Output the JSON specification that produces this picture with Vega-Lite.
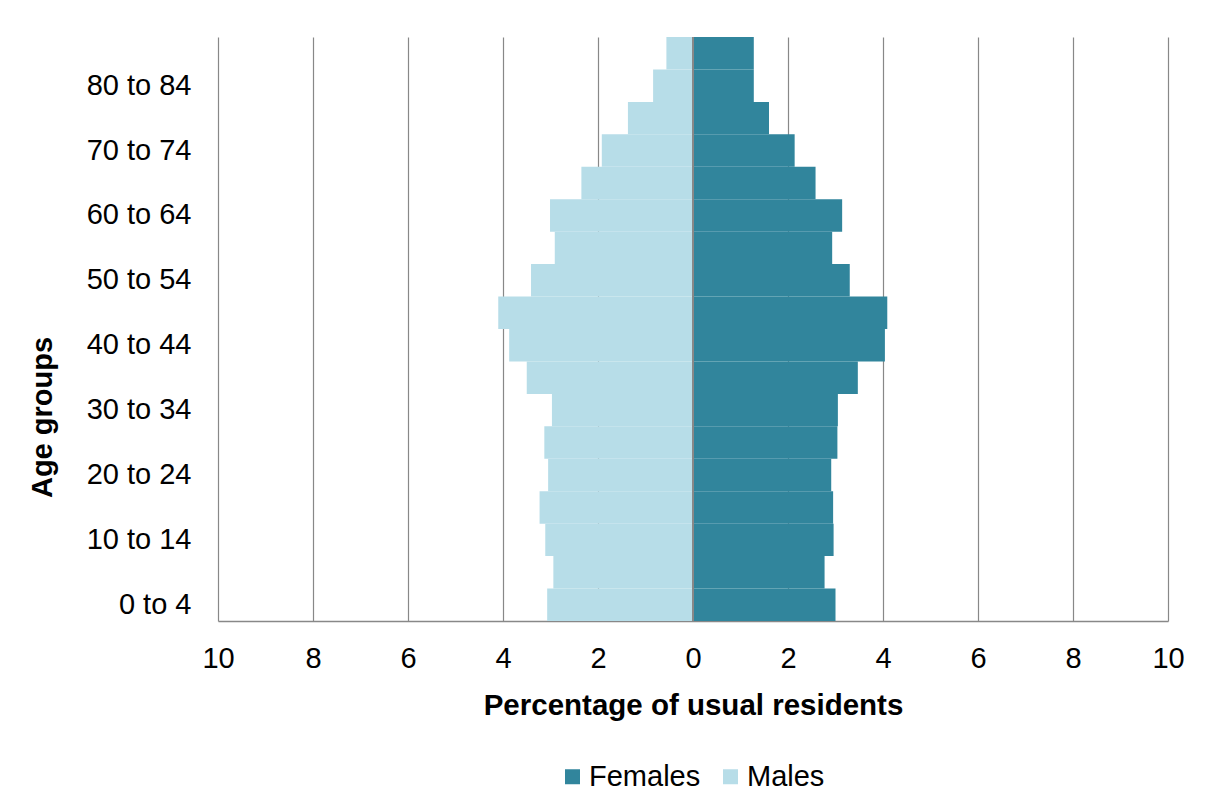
{
  "$schema": "https://vega.github.io/schema/vega-lite/v6.json",
  "width": 950,
  "height": 584,
  "autosize": {"type": "none"},
  "padding": {"left": 218, "top": 37, "right": 40, "bottom": 186},
  "background": "white",
  "config": {
    "font": "Liberation Sans",
    "view": {"stroke": null},
    "axis": {"labelColor": "black", "titleColor": "black", "labelFont": "Liberation Sans", "titleFont": "Liberation Sans"},
    "legend": {"labelFont": "Liberation Sans"}
  },
  "data": {
    "values": [
      {"age": "0 to 4", "sex": "Females", "value": 3.00},
      {"age": "0 to 4", "sex": "Males", "value": -3.07},
      {"age": "5 to 9", "sex": "Females", "value": 2.77},
      {"age": "5 to 9", "sex": "Males", "value": -2.94},
      {"age": "10 to 14", "sex": "Females", "value": 2.96},
      {"age": "10 to 14", "sex": "Males", "value": -3.11},
      {"age": "15 to 19", "sex": "Females", "value": 2.95},
      {"age": "15 to 19", "sex": "Males", "value": -3.23},
      {"age": "20 to 24", "sex": "Females", "value": 2.91},
      {"age": "20 to 24", "sex": "Males", "value": -3.05},
      {"age": "25 to 29", "sex": "Females", "value": 3.04},
      {"age": "25 to 29", "sex": "Males", "value": -3.13},
      {"age": "30 to 34", "sex": "Females", "value": 3.05},
      {"age": "30 to 34", "sex": "Males", "value": -2.97},
      {"age": "35 to 39", "sex": "Females", "value": 3.47},
      {"age": "35 to 39", "sex": "Males", "value": -3.50},
      {"age": "40 to 44", "sex": "Females", "value": 4.04},
      {"age": "40 to 44", "sex": "Males", "value": -3.87},
      {"age": "45 to 49", "sex": "Females", "value": 4.09},
      {"age": "45 to 49", "sex": "Males", "value": -4.10},
      {"age": "50 to 54", "sex": "Females", "value": 3.30},
      {"age": "50 to 54", "sex": "Males", "value": -3.41},
      {"age": "55 to 59", "sex": "Females", "value": 2.93},
      {"age": "55 to 59", "sex": "Males", "value": -2.91},
      {"age": "60 to 64", "sex": "Females", "value": 3.14},
      {"age": "60 to 64", "sex": "Males", "value": -3.01},
      {"age": "65 to 69", "sex": "Females", "value": 2.58},
      {"age": "65 to 69", "sex": "Males", "value": -2.35},
      {"age": "70 to 74", "sex": "Females", "value": 2.14},
      {"age": "70 to 74", "sex": "Males", "value": -1.92},
      {"age": "75 to 79", "sex": "Females", "value": 1.60},
      {"age": "75 to 79", "sex": "Males", "value": -1.37},
      {"age": "80 to 84", "sex": "Females", "value": 1.28},
      {"age": "80 to 84", "sex": "Males", "value": -0.84},
      {"age": "85 and over", "sex": "Females", "value": 1.28},
      {"age": "85 and over", "sex": "Males", "value": -0.56}
    ]
  },
  "layer": [
    {
      "mark": {"type": "bar"},
      "encoding": {
        "y": {
          "field": "age",
          "type": "nominal",
          "scale": {
            "domain": ["85 and over", "80 to 84", "75 to 79", "70 to 74", "65 to 69", "60 to 64", "55 to 59", "50 to 54", "45 to 49", "40 to 44", "35 to 39", "30 to 34", "25 to 29", "20 to 24", "15 to 19", "10 to 14", "5 to 9", "0 to 4"],
            "paddingInner": 0,
            "paddingOuter": 0
          },
          "axis": {
            "values": ["80 to 84", "70 to 74", "60 to 64", "50 to 54", "40 to 44", "30 to 34", "20 to 24", "10 to 14", "0 to 4"],
            "title": "Age groups",
            "titleFontSize": 29,
            "titleFontWeight": "bold",
            "titleAngle": -90,
            "titleX": -167,
            "titleY": 380,
            "titleAlign": "center",
            "titleBaseline": "alphabetic",
            "labelFontSize": 29,
            "labelPadding": 27,
            "ticks": false,
            "domain": false,
            "grid": false
          }
        },
        "x": {
          "field": "value",
          "type": "quantitative",
          "stack": null,
          "scale": {"domain": [-10, 10], "nice": false, "zero": false},
          "axis": {
            "values": [-10, -8, -6, -4, -2, 0, 2, 4, 6, 8, 10],
            "labelExpr": "abs(datum.value)",
            "labelFlush": false,
            "title": "Percentage of usual residents",
            "titleFontSize": 29.5,
            "titleFontWeight": "bold",
            "titlePadding": 18,
            "labelFontSize": 29,
            "labelPadding": 23,
            "ticks": false,
            "grid": true,
            "gridColor": "#888888",
            "gridWidth": 1.2,
            "gridOpacity": 1,
            "domain": true,
            "domainColor": "#888888",
            "domainWidth": 1.5
          }
        },
        "color": {
          "field": "sex",
          "type": "nominal",
          "scale": {"domain": ["Females", "Males"], "range": ["#31859C", "#B7DDE8"]},
          "legend": {
            "title": null,
            "orient": "none",
            "direction": "horizontal",
            "legendX": 340,
            "legendY": 725,
            "symbolType": "square",
            "symbolSize": 225,
            "symbolStrokeWidth": 0,
            "symbolOpacity": 1,
            "labelFontSize": 29,
            "labelColor": "black",
            "labelOffset": 2,
            "columnPadding": 15,
            "padding": 0
          }
        }
      }
    },
    {
      "mark": {"type": "rule", "color": "#888888", "strokeWidth": 2},
      "encoding": {"x": {"datum": 0}}
    }
  ]
}
